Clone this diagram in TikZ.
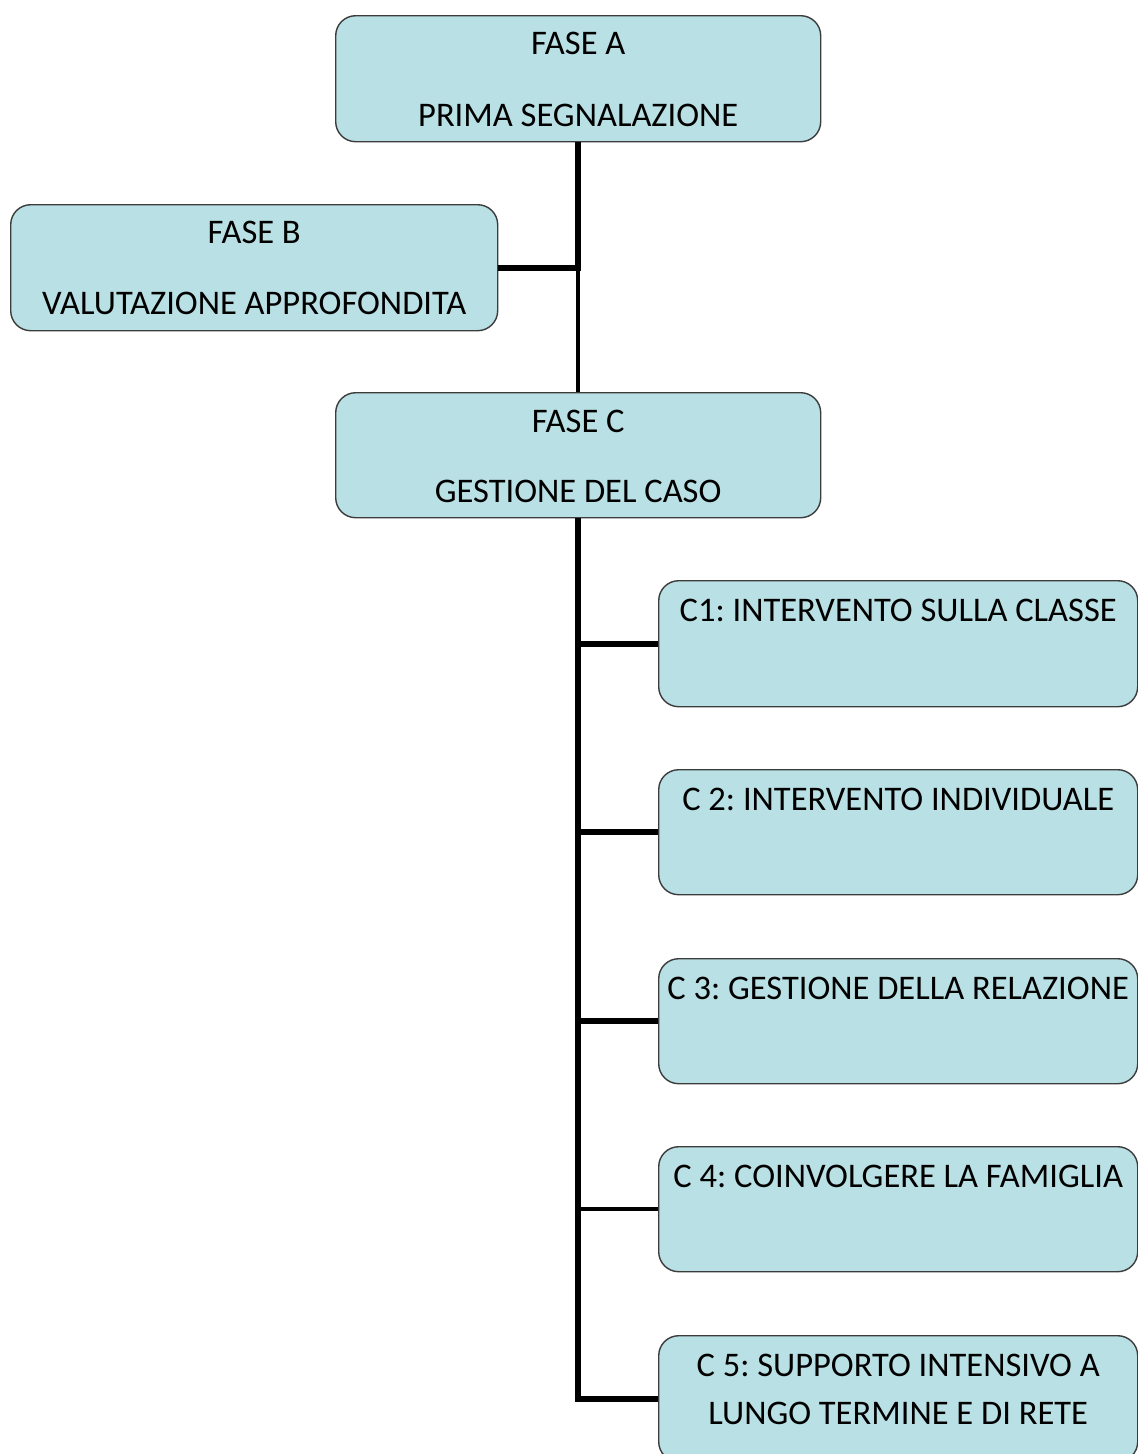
\documentclass[tikz,border=0pt]{standalone}
\usepackage{fontspec}
\setmainfont{Carlito}
\frenchspacing
\definecolor{boxfill}{RGB}{185,224,228}
\definecolor{boxline}{RGB}{60,60,60}
\begin{document}
\begin{tikzpicture}[x=1pt,y=-1pt,
  box/.style={draw=boxline, line width=1.4pt, fill=boxfill, rounded corners=20pt,
    anchor=north west, inner sep=0pt},
  txt/.style={anchor=base, inner sep=0pt, font=\fontsize{34.5}{40}\selectfont, text=black},
  thickline/.style={line width=6pt},
  thinline/.style={line width=3.5pt},
  midline/.style={line width=4.5pt}]
\useasboundingbox (0,0) rectangle (1138,1454);
\fill[white] (0,0) rectangle (1138,1454);

% boxes
\node[box, minimum width=485pt, minimum height=126pt] (A) at (335,15) {};
\node[box, minimum width=487pt, minimum height=126pt] (B) at (10,204) {};
\node[box, minimum width=485pt, minimum height=125pt] (C) at (335,392) {};
\node[box, minimum width=479pt, minimum height=126pt] (C1) at (658,580) {};
\node[box, minimum width=479pt, minimum height=125pt] (C2) at (658,769) {};
\node[box, minimum width=479pt, minimum height=125pt] (C3) at (658,958) {};
\node[box, minimum width=479pt, minimum height=125pt] (C4) at (658,1146) {};
\node[box, minimum width=479pt, minimum height=126pt] (C5) at (658,1335) {};

% texts
\node[txt] (tA1) at ([yshift=-39pt]A.north) {FASE A};
\node[txt] (tA2) at ([yshift=-111pt]A.north) {PRIMA SEGNALAZIONE};
\node[txt] (tB1) at ([yshift=-39pt]B.north) {FASE B};
\node[txt] (tB2) at ([yshift=-110pt]B.north) {VALUTAZIONE APPROFONDITA};
\node[txt] (tC1) at ([yshift=-40pt]C.north) {FASE C};
\node[txt] (tC2) at ([yshift=-110pt]C.north) {GESTIONE DEL CASO};
\node[txt] (t1) at ([yshift=-41pt]C1.north) {C1: INTERVENTO SULLA CLASSE};
\node[txt] (t2) at ([yshift=-41pt]C2.north) {C 2: INTERVENTO INDIVIDUALE};
\node[txt] (t3) at ([yshift=-41pt]C3.north) {C 3: GESTIONE DELLA RELAZIONE};
\node[txt] (t4) at ([yshift=-41pt]C4.north) {C 4: COINVOLGERE LA FAMIGLIA};
\node[txt] (t5a) at ([yshift=-41pt]C5.north) {C 5: SUPPORTO INTENSIVO A};
\node[txt] (t5b) at ([yshift=-89pt]C5.north) {LUNGO TERMINE E DI RETE};

% connectors
\coordinate (J1) at (A.south |- B.east);
\draw[thinline] (J1) -- (C.north);
\draw[thickline] (A.south) -- ([yshift=-3pt]J1);
\draw[thickline] (B.east) -- ([xshift=3pt]J1);
\draw[thickline] (C.south) |- (C5.west);
\draw[thickline] (C1.west) -- (C1.west -| C.south);
\draw[thickline] (C2.west) -- (C2.west -| C.south);
\draw[thickline] (C3.west) -- (C3.west -| C.south);
\draw[midline] (C4.west) -- (C4.west -| C.south);
\end{tikzpicture}
\end{document}
